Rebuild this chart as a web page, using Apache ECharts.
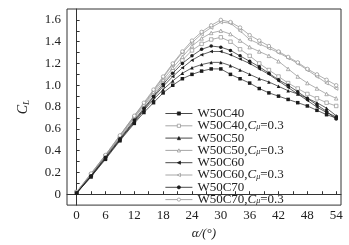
<!DOCTYPE html>
<html>
<head>
<meta charset="utf-8">
<script src="https://cdn.jsdelivr.net/npm/echarts@6/dist/echarts.min.js"></script>
<style>
  html, body { margin: 0; padding: 0; background: #fff; }
  #chart { width: 349px; height: 245px; }
</style>
</head>
<body>
<div id="chart"></div>
<script>
// angle of attack (deg)
var alpha = [0, 3, 6, 9, 12, 14, 16, 18, 20, 22, 24, 26, 28, 30, 32, 34, 36, 38, 40, 42, 44, 46, 48, 50, 52, 54];

// lift coefficient
var w50c40 = [0.01, 0.16, 0.32, 0.49, 0.65, 0.75, 0.84, 0.93, 1.00, 1.06, 1.10, 1.13, 1.15, 1.15, 1.10, 1.06, 1.02, 0.97, 0.93, 0.90, 0.87, 0.84, 0.81, 0.77, 0.73, 0.70];
var w50c40mu = [0.02, 0.18, 0.35, 0.52, 0.70, 0.81, 0.92, 1.03, 1.13, 1.23, 1.32, 1.38, 1.42, 1.44, 1.40, 1.33, 1.27, 1.20, 1.14, 1.08, 1.02, 0.97, 0.92, 0.88, 0.84, 0.81];
var w50c50 = [0.01, 0.16, 0.33, 0.50, 0.66, 0.77, 0.87, 0.96, 1.04, 1.11, 1.16, 1.19, 1.21, 1.21, 1.18, 1.14, 1.10, 1.06, 1.03, 0.99, 0.95, 0.92, 0.88, 0.84, 0.79, 0.72];
var w50c50mu = [0.02, 0.18, 0.35, 0.53, 0.71, 0.82, 0.94, 1.05, 1.16, 1.26, 1.36, 1.43, 1.48, 1.50, 1.47, 1.41, 1.35, 1.31, 1.27, 1.22, 1.15, 1.08, 1.02, 0.97, 0.92, 0.88];
var w50c60 = [0.01, 0.17, 0.33, 0.50, 0.67, 0.78, 0.89, 0.99, 1.08, 1.16, 1.23, 1.28, 1.31, 1.31, 1.28, 1.24, 1.20, 1.15, 1.10, 1.04, 0.98, 0.92, 0.86, 0.80, 0.75, 0.71];
var w50c60mu = [0.02, 0.19, 0.36, 0.54, 0.72, 0.83, 0.95, 1.07, 1.19, 1.30, 1.39, 1.47, 1.53, 1.58, 1.57, 1.50, 1.42, 1.38, 1.34, 1.30, 1.25, 1.20, 1.14, 1.08, 1.02, 0.97];
var w50c70 = [0.01, 0.17, 0.34, 0.51, 0.68, 0.79, 0.90, 1.01, 1.11, 1.20, 1.27, 1.33, 1.36, 1.35, 1.32, 1.27, 1.22, 1.17, 1.11, 1.05, 1.00, 0.94, 0.88, 0.82, 0.76, 0.69];
var w50c70mu = [0.02, 0.19, 0.36, 0.54, 0.72, 0.84, 0.96, 1.08, 1.20, 1.31, 1.41, 1.49, 1.55, 1.60, 1.58, 1.53, 1.46, 1.41, 1.36, 1.31, 1.26, 1.21, 1.15, 1.10, 1.05, 1.00];

// axis ticks
var xLabels = [0, 6, 12, 18, 24, 30, 36, 42, 48, 54];
var xTicks = [0, 3, 6, 9, 12, 15, 18, 21, 24, 27, 30, 33, 36, 39, 42, 45, 48, 51, 54];
var yLabels = [0, 0.2, 0.4, 0.6, 0.8, 1.0, 1.2, 1.4, 1.6];
var yTicks = [0, 0.1, 0.2, 0.3, 0.4, 0.5, 0.6, 0.7, 0.8, 0.9, 1.0, 1.1, 1.2, 1.3, 1.4, 1.5, 1.6];

var names = ["W50C40", "W50C40,Cμ=0.3", "W50C50", "W50C50,Cμ=0.3",
             "W50C60", "W50C60,Cμ=0.3", "W50C70", "W50C70,Cμ=0.3"];
var values = [w50c40, w50c40mu, w50c50, w50c50mu, w50c60, w50c60mu, w50c70, w50c70mu];
var symbols = ["rect", "rect", "triangle", "triangle", "triangle", "triangle", "circle", "circle"];
var rotates = [0, 0, 0, 0, 90, 90, 0, 0];

var FONT = "Liberation Serif";
var DARK = "#1c1c1c";
var GREY = "#8f8f8f";

var series = names.map(function (n, i) {
  var hollow = i % 2 === 1;
  return {
    name: n,
    type: "line",
    data: alpha.map(function (a, j) { return [a, values[i][j]]; }),
    symbol: symbols[i],
    symbolRotate: rotates[i],
    symbolSize: 3.5,
    showAllSymbol: true,
    lineStyle: { color: hollow ? GREY : DARK, width: 0.7 },
    itemStyle: hollow
      ? { color: "#fff", borderColor: GREY, borderWidth: 0.7 }
      : { color: DARK, borderColor: DARK, borderWidth: 0 },
    emphasis: { disabled: true },
    z: hollow ? 2 : 3
  };
});

var myChart = echarts.init(document.getElementById("chart"));
myChart.setOption({
  animation: false,
  grid: {
    left: 67,
    right: 8,
    top: 9,
    bottom: 32,
    show: true,
    borderColor: "#333",
    borderWidth: 1
  },
  legend: {
    orient: "vertical",
    left: 160,
    top: 102,
    itemWidth: 27,
    itemHeight: 4,
    itemGap: -0.7,
    data: names,
    lineStyle: { width: 0.8 },
    itemStyle: { borderWidth: 0.7 },
    formatter: function (n) {
      var k = n.indexOf(",");
      if (k < 0) return n;
      return n.slice(0, k) + ",{i|C}{s|μ}=0.3";
    },
    textStyle: {
      fontFamily: FONT,
      fontSize: 13,
      lineHeight: 11,
      color: "#222",
      rich: {
        i: { fontFamily: FONT, fontSize: 13, fontStyle: "italic", lineHeight: 11, color: "#222" },
        s: { fontFamily: FONT, fontSize: 8, fontStyle: "italic", lineHeight: 11, verticalAlign: "bottom", color: "#222" }
      }
    }
  },
  xAxis: {
    type: "value",
    min: -2,
    max: 55,
    name: "α/(°)",
    nameLocation: "middle",
    nameGap: 11,
    nameTextStyle: { fontFamily: FONT, fontSize: 13, color: "#222", fontStyle: "italic" },
    axisLine: { show: true, lineStyle: { color: "#333", width: 1 } },
    axisTick: { show: true, inside: true, length: 3, customValues: xTicks, lineStyle: { color: "#333" } },
    axisLabel: {
      customValues: xLabels,
      margin: 4,
      fontFamily: FONT,
      fontSize: 13,
      color: "#222"
    },
    splitLine: { show: false }
  },
  yAxis: {
    type: "value",
    min: -0.1,
    max: 1.7,
    name: "{i|C}{s|L}",
    nameLocation: "middle",
    nameRotate: 90,
    nameGap: 36,
    nameTextStyle: {
      fontFamily: FONT,
      fontSize: 13,
      color: "#222",
      rich: {
        i: { fontFamily: FONT, fontSize: 14, fontStyle: "italic", color: "#222" },
        s: { fontFamily: FONT, fontSize: 9, fontStyle: "italic", color: "#222", verticalAlign: "bottom", padding: [6, 0, 0, 0] }
      }
    },
    axisLine: { show: true, lineStyle: { color: "#333", width: 1 } },
    axisTick: { show: true, inside: true, length: 3, customValues: yTicks, lineStyle: { color: "#333" } },
    axisLabel: {
      customValues: yLabels,
      margin: 6,
      fontFamily: FONT,
      fontSize: 13,
      color: "#222",
      formatter: function (v) { return v === 0 ? "0" : v.toFixed(1); }
    },
    splitLine: { show: false }
  },
  series: series
});
</script>
</body>
</html>
